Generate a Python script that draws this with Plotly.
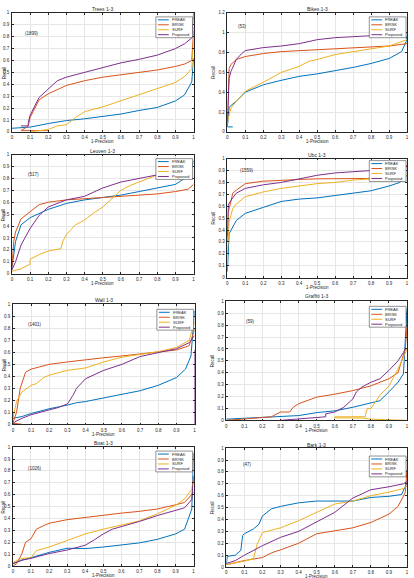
import plotly.graph_objects as go

# ---------------- data ----------------
series_names = ["FREAK", "BRISK", "SURF", "Proposed"]
series_colors = ["#0072BD", "#D95319", "#EDB120", "#7E2F8E"]
titles = ["Trees 1-3", "Bikes 1-3", "Leuven 1-3", "Ubc 1-3",
          "Wall 1-3", "Graffiti 1-3", "Boat 1-3", "Bark 1-3"]
counts = ["(1899)", "(53)", "(517)", "(1559)", "(1401)", "(59)", "(1026)", "(47)"]
count_pos_x = [0.06, 0.05, 0.08, 0.06, 0.07, 0.1, 0.07, 0.08]
count_pos_y = [0.83, 1.06, 0.83, 0.90, 0.835, 0.83, 0.82, 0.86]
y_max = [1.0, 1.2, 1.0, 1.0, 1.0, 1.0, 1.0, 1.0]
y_step = [0.1, 0.2, 0.1, 0.1, 0.1, 0.1, 0.1, 0.1]
x_ticks = [0, 0.1, 0.2, 0.3, 0.4, 0.5, 0.6, 0.7, 0.8, 0.9, 1]

# Trees 1-3
trees_freak_x = [0, 0.1, 0.2, 0.3, 0.4, 0.5, 0.6, 0.7, 0.8, 0.9, 0.95, 0.99, 1.0]
trees_freak_y = [0.03, 0.04, 0.07, 0.095, 0.11, 0.13, 0.15, 0.18, 0.205, 0.26, 0.31, 0.42, 0.62]
trees_brisk_x = [0.2, 0.05, 0.09, 0.1, 0.15, 0.2, 0.3, 0.4, 0.5, 0.6, 0.7, 0.8, 0.9, 0.95, 0.99, 1.0]
trees_brisk_y = [0.01, 0.01, 0.05, 0.12, 0.27, 0.32, 0.39, 0.43, 0.46, 0.48, 0.50, 0.52, 0.55, 0.57, 0.60, 0.85]
trees_surf_x = [0.1, 0.2, 0.25, 0.3, 0.35, 0.4, 0.5, 0.6, 0.7, 0.8, 0.9, 0.95, 0.99, 1.0, 1.0]
trees_surf_y = [0.0, 0.02, 0.05, 0.06, 0.12, 0.17, 0.21, 0.26, 0.31, 0.36, 0.415, 0.465, 0.53, 0.76, 0.88]
trees_prop_x = [0.05, 0.09, 0.09, 0.1, 0.15, 0.2, 0.25, 0.3, 0.4, 0.5, 0.6, 0.7, 0.8, 0.9, 0.95, 0.99, 1.0]
trees_prop_y = [0.05, 0.05, 0.08, 0.14, 0.29, 0.36, 0.43, 0.46, 0.50, 0.535, 0.58, 0.61, 0.645, 0.70, 0.74, 0.79, 1.0]

# Bikes 1-3
bikes_freak_x = [0.03, 0.0, 0.01, 0.05, 0.1, 0.2, 0.3, 0.4, 0.5, 0.6, 0.7, 0.8, 0.9, 0.97, 1.0, 0.99]
bikes_freak_y = [0.05, 0.05, 0.25, 0.31, 0.40, 0.475, 0.52, 0.56, 0.585, 0.615, 0.65, 0.69, 0.74, 0.81, 0.93, 0.99]
bikes_brisk_x = [0.0, 0.005, 0.01, 0.02, 0.05, 0.1, 0.2, 0.3, 0.4, 0.5, 0.6, 0.7, 0.8, 0.9, 1.0]
bikes_brisk_y = [0.05, 0.4, 0.64, 0.68, 0.73, 0.76, 0.79, 0.81, 0.82, 0.83, 0.84, 0.85, 0.856, 0.866, 0.89]
bikes_surf_x = [0.0, 0.02, 0.05, 0.1, 0.2, 0.3, 0.35, 0.4, 0.45, 0.5, 0.6, 0.7, 0.8, 0.9, 1.0]
bikes_surf_y = [0.1, 0.24, 0.31, 0.41, 0.50, 0.60, 0.63, 0.66, 0.71, 0.73, 0.78, 0.81, 0.84, 0.866, 0.93]
bikes_prop_x = [0.0, 0.01, 0.02, 0.05, 0.08, 0.1, 0.2, 0.3, 0.4, 0.5, 0.6, 0.7, 0.8, 0.9, 1.0]
bikes_prop_y = [0.1, 0.54, 0.61, 0.73, 0.79, 0.82, 0.85, 0.866, 0.89, 0.93, 0.95, 0.96, 0.97, 0.98, 1.0]

# Leuven 1-3
leuven_freak_x = [0, 0.01, 0.02, 0.05, 0.1, 0.2, 0.3, 0.4, 0.5, 0.6, 0.7, 0.8, 0.9, 0.95, 0.98, 1.0]
leuven_freak_y = [0.05, 0.16, 0.27, 0.41, 0.47, 0.54, 0.59, 0.62, 0.64, 0.66, 0.69, 0.72, 0.75, 0.80, 0.84, 0.95]
leuven_brisk_x = [0, 0.01, 0.02, 0.05, 0.1, 0.15, 0.2, 0.3, 0.4, 0.5, 0.6, 0.7, 0.8, 0.9, 0.97, 1.0]
leuven_brisk_y = [0.05, 0.27, 0.35, 0.46, 0.52, 0.58, 0.60, 0.62, 0.63, 0.64, 0.65, 0.66, 0.67, 0.69, 0.71, 0.75]
leuven_surf_x = [0, 0.05, 0.1, 0.1, 0.15, 0.2, 0.27, 0.28, 0.3, 0.35, 0.4, 0.45, 0.5, 0.55, 0.6, 0.65, 0.7, 0.8, 0.9, 0.95]
leuven_surf_y = [0.02, 0.04, 0.08, 0.12, 0.16, 0.19, 0.21, 0.27, 0.33, 0.41, 0.45, 0.51, 0.56, 0.63, 0.70, 0.74, 0.77, 0.83, 0.855, 0.86]
leuven_prop_x = [0, 0.02, 0.05, 0.1, 0.15, 0.2, 0.3, 0.4, 0.5, 0.6, 0.7, 0.8, 0.9, 0.98]
leuven_prop_y = [0.03, 0.10, 0.24, 0.38, 0.49, 0.56, 0.62, 0.65, 0.72, 0.77, 0.80, 0.83, 0.83, 0.85]

# Ubc 1-3
ubc_freak_x = [0, 0.005, 0.01, 0.05, 0.1, 0.2, 0.3, 0.4, 0.5, 0.6, 0.7, 0.8, 0.9, 0.96, 1.0]
ubc_freak_y = [0.05, 0.30, 0.37, 0.48, 0.54, 0.59, 0.64, 0.66, 0.67, 0.69, 0.71, 0.73, 0.77, 0.80, 0.86]
ubc_brisk_x = [0, 0.005, 0.02, 0.03, 0.05, 0.1, 0.2, 0.3, 0.4, 0.5, 0.6, 0.7, 0.8, 0.9, 0.95, 1.0]
ubc_brisk_y = [0.3, 0.55, 0.64, 0.71, 0.735, 0.79, 0.81, 0.82, 0.825, 0.83, 0.83, 0.83, 0.83, 0.83, 0.835, 0.94]
ubc_surf_x = [0, 0.005, 0.01, 0.03, 0.05, 0.1, 0.2, 0.3, 0.4, 0.5, 0.6, 0.7, 0.8, 0.9, 1.0]
ubc_surf_y = [0.2, 0.36, 0.47, 0.58, 0.62, 0.68, 0.72, 0.75, 0.77, 0.79, 0.80, 0.82, 0.83, 0.84, 0.86]
ubc_prop_x = [0, 0.005, 0.02, 0.05, 0.1, 0.2, 0.3, 0.4, 0.5, 0.6, 0.7, 0.8, 0.9, 1.0]
ubc_prop_y = [0.35, 0.61, 0.65, 0.71, 0.75, 0.78, 0.80, 0.83, 0.86, 0.88, 0.89, 0.90, 0.91, 0.94]

# Wall 1-3
wall_freak_x = [0, 0.05, 0.1, 0.2, 0.3, 0.35, 0.4, 0.5, 0.6, 0.7, 0.8, 0.9, 0.95, 0.98, 1.0]
wall_freak_y = [0.05, 0.065, 0.09, 0.13, 0.16, 0.18, 0.19, 0.22, 0.25, 0.28, 0.325, 0.39, 0.46, 0.57, 0.945]
wall_brisk_x = [0.05, 0.0, 0.02, 0.04, 0.06, 0.07, 0.1, 0.2, 0.3, 0.4, 0.5, 0.6, 0.7, 0.8, 0.9, 0.97, 1.0]
wall_brisk_y = [0.0, 0.01, 0.10, 0.30, 0.39, 0.435, 0.46, 0.50, 0.52, 0.54, 0.555, 0.57, 0.585, 0.60, 0.62, 0.655, 0.79]
wall_surf_x = [0, 0.02, 0.05, 0.1, 0.13, 0.17, 0.2, 0.3, 0.4, 0.5, 0.6, 0.7, 0.8, 0.9, 0.97, 1.0]
wall_surf_y = [0.05, 0.19, 0.27, 0.325, 0.34, 0.39, 0.41, 0.45, 0.47, 0.52, 0.56, 0.585, 0.605, 0.64, 0.70, 0.85]
wall_prop_x = [1.0, 1.0, None, 0, 0.01, 0.05, 0.1, 0.2, 0.25, 0.3, 0.33, 0.35, 0.4, 0.5, 0.6, 0.7, 0.8, 0.9, 0.97, 1.0]
wall_prop_y = [0.0, 0.62, None, 0.0, 0.02, 0.05, 0.08, 0.12, 0.14, 0.17, 0.24, 0.30, 0.38, 0.45, 0.50, 0.565, 0.60, 0.63, 0.68, 0.74]

# Graffiti 1-3
graf_freak_x = [0, 0.3, 0.4, 0.5, 0.6, 0.7, 0.8, 0.85, 0.9, 0.95, 0.98, 1.0]
graf_freak_y = [0.01, 0.03, 0.04, 0.065, 0.08, 0.11, 0.145, 0.165, 0.24, 0.32, 0.39, 0.94]
graf_brisk_x = [0, 0.2, 0.25, 0.28, 0.3, 0.35, 0.37, 0.4, 0.45, 0.5, 0.6, 0.7, 0.8, 0.9, 0.95, 0.99, 1.0]
graf_brisk_y = [0.0, 0.02, 0.03, 0.055, 0.07, 0.07, 0.11, 0.14, 0.17, 0.195, 0.22, 0.25, 0.29, 0.35, 0.40, 0.60, 0.79]
graf_surf_x = [1.0, 0.8, 0.75, 0.6, 0.6, 0.77, 0.77, 0.78, 0.8, 0.82, 0.85, 0.9, 0.95, 1.0]
graf_surf_y = [0.0, 0.01, 0.02, 0.02, 0.03, 0.03, 0.05, 0.10, 0.10, 0.14, 0.21, 0.29, 0.43, 0.60]
graf_prop_x = [0.3, 0.55, 0.55, 0.6, 0.65, 0.7, 0.72, 0.75, 0.8, 0.85, 0.9, 0.95, 0.98, 0.99]
graf_prop_y = [0.0, 0.03, 0.055, 0.07, 0.11, 0.18, 0.24, 0.28, 0.32, 0.35, 0.42, 0.50, 0.57, 0.60]

# Boat 1-3
boat_freak_x = [0, 0.05, 0.1, 0.2, 0.3, 0.4, 0.5, 0.6, 0.7, 0.8, 0.9, 0.95, 0.99, 1.0]
boat_freak_y = [0.02, 0.05, 0.07, 0.115, 0.15, 0.147, 0.16, 0.175, 0.195, 0.225, 0.27, 0.31, 0.48, 0.95]
boat_brisk_x = [0, 0.02, 0.05, 0.07, 0.1, 0.13, 0.17, 0.2, 0.3, 0.4, 0.5, 0.6, 0.7, 0.8, 0.9, 0.95, 1.0]
boat_brisk_y = [0.0, 0.02, 0.105, 0.20, 0.23, 0.31, 0.34, 0.36, 0.39, 0.41, 0.43, 0.445, 0.46, 0.48, 0.515, 0.535, 0.62]
boat_surf_x = [0, 0.05, 0.1, 0.13, 0.2, 0.3, 0.4, 0.5, 0.6, 0.7, 0.8, 0.9, 0.95, 0.99, 1.0]
boat_surf_y = [0.03, 0.065, 0.07, 0.13, 0.16, 0.215, 0.27, 0.31, 0.345, 0.38, 0.44, 0.51, 0.565, 0.645, 0.745]
boat_prop_x = [0, 0.05, 0.1, 0.15, 0.2, 0.3, 0.4, 0.45, 0.5, 0.55, 0.6, 0.7, 0.8, 0.9, 0.95, 0.99, 1.0]
boat_prop_y = [0.02, 0.05, 0.065, 0.085, 0.105, 0.135, 0.175, 0.22, 0.27, 0.31, 0.33, 0.375, 0.425, 0.47, 0.49, 0.56, 0.76]

# Bark 1-3
bark_freak_x = [0, 0.005, 0.05, 0.08, 0.09, 0.1, 0.15, 0.18, 0.2, 0.25, 0.3, 0.4, 0.5, 0.6, 0.7, 0.75, 0.8, 0.9, 0.97, 1.0]
bark_freak_y = [0.02, 0.09, 0.10, 0.14, 0.265, 0.28, 0.32, 0.36, 0.43, 0.49, 0.51, 0.54, 0.555, 0.555, 0.555, 0.57, 0.585, 0.595, 0.61, 0.71]
bark_brisk_x = [0, 0.1, 0.2, 0.25, 0.3, 0.4, 0.5, 0.6, 0.7, 0.8, 0.9, 0.95, 0.99, 1.0]
bark_brisk_y = [0.02, 0.055, 0.08, 0.12, 0.145, 0.20, 0.28, 0.305, 0.33, 0.375, 0.445, 0.51, 0.625, 0.82]
bark_surf_x = [0, 0.08, 0.1, 0.15, 0.17, 0.2, 0.3, 0.4, 0.5, 0.6, 0.7, 0.8, 0.9, 0.98, 1.0]
bark_surf_y = [0.02, 0.04, 0.05, 0.07, 0.19, 0.29, 0.33, 0.39, 0.46, 0.53, 0.555, 0.60, 0.63, 0.66, 0.68]
bark_prop_x = [0, 0.05, 0.1, 0.15, 0.2, 0.3, 0.4, 0.5, 0.6, 0.7, 0.8, 0.9, 0.98, 1.0]
bark_prop_y = [0.03, 0.055, 0.10, 0.14, 0.18, 0.25, 0.30, 0.38, 0.46, 0.58, 0.65, 0.675, 0.70, 0.72]

panels = [
    [(trees_freak_x, trees_freak_y), (trees_brisk_x, trees_brisk_y), (trees_surf_x, trees_surf_y), (trees_prop_x, trees_prop_y)],
    [(bikes_freak_x, bikes_freak_y), (bikes_brisk_x, bikes_brisk_y), (bikes_surf_x, bikes_surf_y), (bikes_prop_x, bikes_prop_y)],
    [(leuven_freak_x, leuven_freak_y), (leuven_brisk_x, leuven_brisk_y), (leuven_surf_x, leuven_surf_y), (leuven_prop_x, leuven_prop_y)],
    [(ubc_freak_x, ubc_freak_y), (ubc_brisk_x, ubc_brisk_y), (ubc_surf_x, ubc_surf_y), (ubc_prop_x, ubc_prop_y)],
    [(wall_freak_x, wall_freak_y), (wall_brisk_x, wall_brisk_y), (wall_surf_x, wall_surf_y), (wall_prop_x, wall_prop_y)],
    [(graf_freak_x, graf_freak_y), (graf_brisk_x, graf_brisk_y), (graf_surf_x, graf_surf_y), (graf_prop_x, graf_prop_y)],
    [(boat_freak_x, boat_freak_y), (boat_brisk_x, boat_brisk_y), (boat_surf_x, boat_surf_y), (boat_prop_x, boat_prop_y)],
    [(bark_freak_x, bark_freak_y), (bark_brisk_x, bark_brisk_y), (bark_surf_x, bark_surf_y), (bark_prop_x, bark_prop_y)],
]

# ---------------- layout (pixel boxes of each axes: left, right, top, bottom) ----------------
W, H = 414, 578
boxes = [(11, 194, 11, 131), (228, 409, 11, 131),
         (11, 194, 154, 274), (228, 409, 158, 278),
         (12, 195, 305, 426), (227, 409, 302, 422),
         (12, 194, 449, 569), (227, 409, 450, 570)]
legend_dy = [4, 4, 4, 2, 5, 5, 4, 8]
title_dy = [4, 4, 4, 4, 4, 5, 4, 3]
recall_dx = [8, 14, 9, 14, 9, 14, 9, 14]

TXT = "#262626"
FONT = "Liberation Sans, Arial, sans-serif"


def px(x):
    return x / W


def py(y):
    return 1 - y / H


fig = go.Figure()
layout = dict(width=W, height=H, margin=dict(l=0, r=0, t=0, b=0),
              paper_bgcolor="white", plot_bgcolor="white", showlegend=False,
              font=dict(family=FONT, color=TXT))
annotations = []
shapes = []

for i, (l, r, t, b) in enumerate(boxes):
    n = i + 1
    xa = "xaxis" if n == 1 else f"xaxis{n}"
    ya = "yaxis" if n == 1 else f"yaxis{n}"
    xr = "x" if n == 1 else f"x{n}"
    yr = "y" if n == 1 else f"y{n}"
    common = dict(showgrid=True, gridcolor="#e6e6e6", gridwidth=0.5, zeroline=False,
                  showline=True, linecolor=TXT, linewidth=0.6, mirror="ticks",
                  ticks="inside", ticklen=2, tickwidth=0.5, tickcolor=TXT,
                  tickfont=dict(size=4.5, color=TXT, family=FONT), fixedrange=True)
    layout[xa] = dict(domain=[px(l), px(r)], range=[0, 1], tickvals=x_ticks,
                      ticktext=[f"{v:g}" for v in x_ticks], anchor=yr, ticklabelstandoff=1, **common)
    yt = [round(k * y_step[i], 2) for k in range(int(round(y_max[i] / y_step[i])) + 1)]
    layout[ya] = dict(domain=[py(b), py(t)], range=[0, y_max[i]], tickvals=yt,
                      ticktext=[f"{v:g}" for v in yt], anchor=xr, ticklabelstandoff=1, **common)

    for (sx, sy), name, col in zip(panels[i], series_names, series_colors):
        fig.add_trace(go.Scatter(x=sx, y=sy, mode="lines", name=name, xaxis=xr, yaxis=yr,
                                 line=dict(color=col, width=1), hoverinfo="skip"))

    cx = (l + r) / 2
    annotations.append(dict(text=titles[i], x=px(cx), y=py(t - title_dy[i]), xref="paper", yref="paper",
                            showarrow=False, font=dict(size=5, color=TXT), xanchor="center", yanchor="middle"))
    annotations.append(dict(text="1-Precision", x=px(cx), y=py(b + 10), xref="paper", yref="paper",
                            showarrow=False, font=dict(size=4.5, color=TXT), xanchor="center", yanchor="middle"))
    annotations.append(dict(text="Recall", x=px(l - recall_dx[i]), y=py((t + b) / 2), xref="paper", yref="paper",
                            showarrow=False, textangle=-90, font=dict(size=4.5, color=TXT),
                            xanchor="center", yanchor="middle"))
    annotations.append(dict(text=counts[i], x=count_pos_x[i], y=count_pos_y[i], xref=xr, yref=yr,
                            showarrow=False, font=dict(size=4.5, color=TXT), xanchor="left", yanchor="middle"))

    # legend box
    lx0, lx1 = r - 38, r - 1
    ly0 = t + legend_dy[i]
    ly1 = ly0 + 21
    shapes.append(dict(type="rect", xref="paper", yref="paper", x0=px(lx0), x1=px(lx1), y0=py(ly1), y1=py(ly0),
                       fillcolor="white", line=dict(color=TXT, width=0.5), layer="above"))
    for k, (name, col) in enumerate(zip(series_names, series_colors)):
        yy = ly0 + 3 + 5 * k
        shapes.append(dict(type="line", xref="paper", yref="paper", x0=px(lx0 + 2), x1=px(lx0 + 13),
                           y0=py(yy), y1=py(yy), line=dict(color=col, width=1), layer="above"))
        annotations.append(dict(text=name, x=px(lx0 + 14), y=py(yy), xref="paper", yref="paper",
                                showarrow=False, font=dict(size=4, color=TXT), xanchor="left", yanchor="middle"))

layout["annotations"] = annotations
layout["shapes"] = shapes
fig.update_layout(**layout)
fig.write_html("out.html")
